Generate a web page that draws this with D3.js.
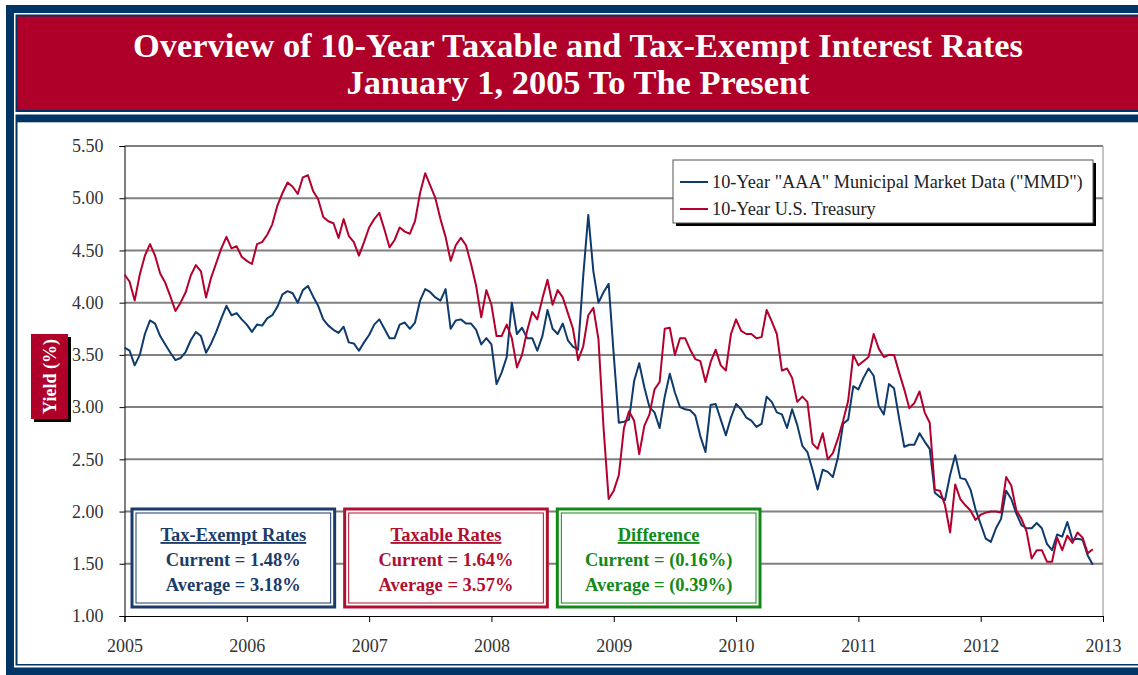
<!DOCTYPE html>
<html>
<head>
<meta charset="utf-8">
<script src="https://cdn.jsdelivr.net/npm/d3@7/dist/d3.min.js"></script>
<style>
  body { margin: 0; background: #fff; }
  text { font-family: "Liberation Serif", "Times New Roman", serif; }
</style>
</head>
<body>
<svg id="chart" width="1138" height="675"></svg>
<script>

// half-monthly readings from Jan 2005
var treasury = [
  4.27, 4.20, 4.02, 4.27, 4.45, 4.56, 4.45, 4.28, 4.19, 4.06, 3.92, 4.00,
  4.10, 4.26, 4.36, 4.30, 4.05, 4.24, 4.38, 4.52, 4.63, 4.52, 4.54, 4.44,
  4.40, 4.37, 4.56, 4.58, 4.65, 4.75, 4.93, 5.05, 5.15, 5.11, 5.04, 5.20,
  5.22, 5.07, 4.99, 4.82, 4.78, 4.76, 4.62, 4.80, 4.64, 4.58, 4.45, 4.58,
  4.72, 4.80, 4.86, 4.70, 4.53, 4.60, 4.72, 4.68, 4.66, 4.78, 5.05, 5.24,
  5.12, 5.00, 4.80, 4.63, 4.40, 4.55, 4.62, 4.55, 4.37, 4.16, 3.86, 4.12,
  3.98, 3.68, 3.68, 3.79, 3.66, 3.38, 3.50, 3.73, 3.91, 3.84, 4.04, 4.22,
  3.98, 4.12, 4.05, 3.90, 3.75, 3.45, 3.58, 3.88, 3.95, 3.65, 2.80, 2.12,
  2.20, 2.35, 2.80, 2.96, 2.87, 2.55, 2.82, 2.93, 3.17, 3.24, 3.75, 3.76,
  3.50, 3.66, 3.66, 3.55, 3.46, 3.44, 3.24, 3.43, 3.55, 3.40, 3.35, 3.70,
  3.84, 3.73, 3.70, 3.70, 3.66, 3.67, 3.93, 3.82, 3.70, 3.35, 3.37, 3.28,
  3.05, 3.10, 3.05, 2.65, 2.60, 2.75, 2.50, 2.56, 2.70, 2.87, 3.06, 3.50,
  3.40, 3.44, 3.48, 3.70, 3.56, 3.48, 3.50, 3.50, 3.33, 3.17, 2.99, 3.04,
  3.15, 2.95, 2.85, 2.21, 2.20, 2.06, 1.80, 2.26, 2.12, 2.06, 2.01, 1.92,
  1.97, 1.99, 2.00, 2.00, 1.99, 2.33, 2.25, 2.01, 1.93, 1.81, 1.55, 1.63,
  1.63, 1.52, 1.52, 1.75, 1.63, 1.77, 1.70, 1.80, 1.75, 1.60, 1.64
];

var mmd = [
  3.57, 3.54, 3.40, 3.50, 3.70, 3.83, 3.80, 3.68, 3.60, 3.52, 3.45, 3.47,
  3.53, 3.64, 3.72, 3.68, 3.52, 3.61, 3.72, 3.85, 3.97, 3.88, 3.90, 3.84,
  3.79, 3.72, 3.79, 3.78, 3.85, 3.88, 3.96, 4.08, 4.11, 4.09, 4.00, 4.12,
  4.16, 4.06, 3.97, 3.84, 3.78, 3.74, 3.71, 3.77, 3.62, 3.61, 3.54, 3.62,
  3.69, 3.79, 3.84, 3.75, 3.66, 3.66, 3.79, 3.81, 3.75, 3.81, 4.02, 4.13,
  4.10, 4.05, 4.02, 4.13, 3.75, 3.83, 3.84, 3.80, 3.80, 3.74, 3.60, 3.66,
  3.60, 3.22, 3.33, 3.48, 4.00, 3.70, 3.76, 3.66, 3.66, 3.54, 3.68, 3.93,
  3.75, 3.70, 3.80, 3.64, 3.58, 3.55, 4.25, 4.84, 4.30, 4.00, 4.10, 4.18,
  3.50, 2.85, 2.86, 2.88, 3.25, 3.42, 3.19, 3.00, 2.95, 2.80, 3.10, 3.32,
  3.14, 3.00, 2.98, 2.97, 2.92, 2.72, 2.57, 3.02, 3.03, 2.88, 2.73, 2.90,
  3.03, 2.98, 2.90, 2.87, 2.81, 2.84, 3.10, 3.05, 2.95, 2.93, 2.80, 2.98,
  2.83, 2.63, 2.57, 2.40, 2.21, 2.40, 2.38, 2.33, 2.52, 2.84, 2.88, 3.20,
  3.17, 3.28, 3.37, 3.30, 3.01, 2.93, 3.22, 3.18, 2.89, 2.62, 2.64, 2.64,
  2.75, 2.67, 2.60, 2.18, 2.14, 2.11, 2.35, 2.54, 2.32, 2.31, 2.21, 2.02,
  1.88, 1.74, 1.71, 1.84, 1.93, 2.20, 2.12, 1.98, 1.87, 1.84, 1.84, 1.89,
  1.84, 1.69, 1.63, 1.78, 1.76, 1.90, 1.73, 1.74, 1.73, 1.58, 1.49
];

var yTicks = [1.00, 1.50, 2.00, 2.50, 3.00, 3.50, 4.00, 4.50, 5.00, 5.50];
var xTicks = [2005, 2006, 2007, 2008, 2009, 2010, 2011, 2012, 2013];

var seriesNames = ['10-Year "AAA" Municipal Market Data ("MMD")', '10-Year U.S. Treasury'];
var titleLines = ['Overview of 10-Year Taxable and Tax-Exempt Interest Rates', 'January 1, 2005 To The Present'];

var boxTitles = ['Tax-Exempt Rates', 'Taxable Rates', 'Difference'];
var boxCurrent = ['1.48%', '1.64%', '(0.16%)'];
var boxAverage = ['3.18%', '3.57%', '(0.39%)'];

var navy = '#003466', red = '#ae0029';
var lineBlue = '#0e3a6c', lineRed = '#b3002d';
var boxColors = ['#1b3b6b', '#b0102f', '#138a17'];

// sampling dates of the readings (two per month)
var obsDates = treasury.map(function(d, i) { return 2005 + i / 24; });

var svg = d3.select('#chart');

// ---- frame ----
svg.append('rect').attr('x', 6).attr('y', 5).attr('width', 1140).attr('height', 670).attr('fill', navy);
// title banner
svg.append('rect').attr('x', 14).attr('y', 13).attr('width', 1130).attr('height', 100).attr('fill', '#fff');
svg.append('rect').attr('x', 15.5).attr('y', 14.5).attr('width', 1130).attr('height', 97.5).attr('fill', navy);
svg.append('rect').attr('x', 17.5).attr('y', 16.5).attr('width', 1130).attr('height', 93.5).attr('fill', red);
// chart panel
svg.append('rect').attr('x', 14).attr('y', 113).attr('width', 1130).attr('height', 554.5).attr('fill', '#fff');
svg.append('rect').attr('x', 15.5).attr('y', 114.5).attr('width', 1130).attr('height', 551).attr('fill', navy);
svg.append('rect').attr('x', 17.5).attr('y', 122.3).attr('width', 1130).attr('height', 541.7).attr('fill', '#fff');

var title = svg.append('g').attr('fill', '#fff').attr('font-weight', 'bold')
  .attr('font-size', 34.4).attr('text-anchor', 'middle');
title.selectAll('text').data(titleLines).enter().append('text')
  .attr('x', 578)
  .attr('y', function(d, i) { return 57 + i * 37; })
  .text(function(d) { return d; });

// ---- plot ----
var plotLeft = 124.5, plotRight = 1103, plotTop = 146, plotBottom = 616;

var x = d3.scaleLinear().domain([2005, 2013]).range([plotLeft, plotRight]);
var y = d3.scaleLinear().domain([1, 5.5]).range([plotBottom, plotTop]);

// gridlines
svg.append('g').selectAll('line').data(yTicks.filter(function(d) { return d > 1; })).enter().append('line')
  .attr('x1', plotLeft).attr('x2', plotRight)
  .attr('y1', function(d) { return y(d); }).attr('y2', function(d) { return y(d); })
  .attr('stroke', '#808080').attr('stroke-width', 2);
svg.append('line').attr('x1', plotRight).attr('x2', plotRight).attr('y1', plotTop).attr('y2', plotBottom)
  .attr('stroke', '#8c8c8c').attr('stroke-width', 1);

var yAxis = svg.append('g').attr('transform', 'translate(' + plotLeft + ',0)')
  .call(d3.axisLeft(y).tickValues(yTicks).tickFormat(d3.format('.2f')).tickSize(5).tickPadding(16));
var xAxis = svg.append('g').attr('transform', 'translate(0,' + plotBottom + ')')
  .call(d3.axisBottom(x).tickValues(xTicks).tickFormat(d3.format('d')).tickSize(6).tickPadding(17));
[yAxis, xAxis].forEach(function(a) {
  a.selectAll('text').attr('font-size', 18).attr('fill', '#333')
    .style('font-family', '"Liberation Serif", serif');
  a.select('.domain').attr('stroke', '#000');
  a.selectAll('.tick line').attr('stroke', '#000');
});

// series
var line = d3.line()
  .x(function(d) { return x(d[0]); })
  .y(function(d) { return y(d[1]); });

var seriesData = [
  { values: d3.zip(obsDates, mmd), color: lineBlue },
  { values: d3.zip(obsDates, treasury), color: lineRed }
];
svg.append('g').selectAll('path').data(seriesData).enter().append('path')
  .attr('d', function(d) { return line(d.values); })
  .attr('fill', 'none')
  .attr('stroke', function(d) { return d.color; })
  .attr('stroke-width', 2)
  .attr('stroke-linejoin', 'round');

// ---- legend ----
var lg = svg.append('g').attr('transform', 'translate(673,160)');
lg.append('rect').attr('x', 3).attr('y', 3).attr('width', 420).attr('height', 63).attr('fill', '#000');
lg.append('rect').attr('width', 420).attr('height', 63).attr('fill', '#fff').attr('stroke', '#555');
var li = lg.selectAll('g.item').data(seriesNames).enter().append('g').attr('class', 'item')
  .attr('transform', function(d, i) { return 'translate(0,' + (22 + i * 27) + ')'; });
li.append('line').attr('x1', 7).attr('x2', 35)
  .attr('stroke', function(d, i) { return seriesData[i].color; }).attr('stroke-width', 2);
li.append('text').attr('x', 39).attr('dy', '0.35em').attr('font-size', 18.3).attr('fill', '#222')
  .text(function(d) { return d; });

// ---- y label ----
svg.append('rect').attr('x', 34).attr('y', 337).attr('width', 37).attr('height', 85).attr('fill', '#000');
svg.append('rect').attr('x', 31).attr('y', 334).attr('width', 37).attr('height', 85).attr('fill', red);
svg.append('text').attr('transform', 'translate(50,376.5) rotate(-90)')
  .attr('text-anchor', 'middle').attr('dy', '0.35em')
  .attr('fill', '#fff').attr('font-weight', 'bold').attr('font-size', 18)
  .text('Yield (%)');

// ---- summary boxes ----
var bx = d3.scaleBand().domain(boxTitles).range([132, 760]).paddingInner(0.047);
var boxes = svg.append('g').selectAll('g').data(boxTitles).enter().append('g')
  .attr('transform', function(d) { return 'translate(' + bx(d) + ',509)'; });
boxes.append('rect').attr('width', bx.bandwidth()).attr('height', 98)
  .attr('fill', '#fff')
  .attr('stroke', function(d, i) { return boxColors[i]; }).attr('stroke-width', 3);
boxes.append('rect').attr('x', 4).attr('y', 4).attr('width', bx.bandwidth() - 8).attr('height', 90)
  .attr('fill', 'none')
  .attr('stroke', function(d, i) { return boxColors[i]; }).attr('stroke-width', 1);
var bt = boxes.append('text').attr('text-anchor', 'middle').attr('font-weight', 'bold').attr('font-size', 18.5)
  .attr('fill', function(d, i) { return boxColors[i]; });
bt.append('tspan').attr('x', bx.bandwidth() / 2).attr('y', 32).style('text-decoration', 'underline')
  .text(function(d) { return d; });
bt.append('tspan').attr('x', bx.bandwidth() / 2).attr('y', 57)
  .text(function(d, i) { return 'Current = ' + boxCurrent[i]; });
bt.append('tspan').attr('x', bx.bandwidth() / 2).attr('y', 82)
  .text(function(d, i) { return 'Average = ' + boxAverage[i]; });

</script>
</body>
</html>
